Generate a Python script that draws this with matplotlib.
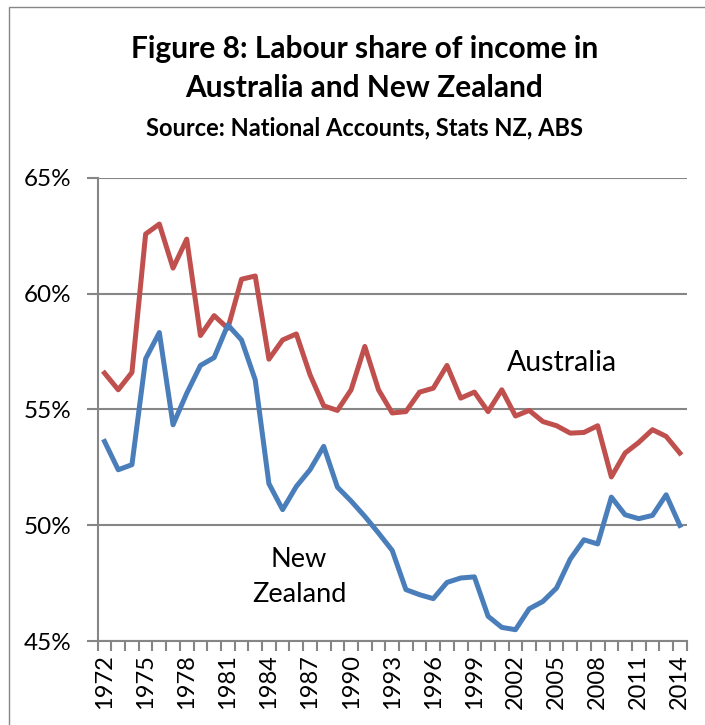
import matplotlib
matplotlib.use("Agg")
import matplotlib.pyplot as plt
from matplotlib.patches import Rectangle
from matplotlib.ticker import FuncFormatter, FixedLocator
import numpy as np

plt.rcParams['font.family'] = ['Lato', 'DejaVu Sans']

years = list(range(1972, 2015))

australia = [56.57, 55.85, 56.6, 62.57, 63.0, 61.1, 62.35, 58.19, 59.05, 58.5,
             60.62, 60.76, 57.17, 58.0, 58.26, 56.5, 55.16, 54.96, 55.85, 57.72,
             55.85, 54.85, 54.91, 55.75, 55.92, 56.9, 55.49, 55.75, 54.91, 55.85,
             54.72, 54.96, 54.48, 54.3, 53.98, 54.01, 54.3, 52.09, 53.12, 53.58,
             54.13, 53.84, 53.12]

new_zealand = [53.62, 52.4, 52.62, 57.19, 58.32, 54.34, 55.7, 56.9, 57.24, 58.65,
               58.0, 56.28, 51.8, 50.68, 51.68, 52.4, 53.41, 51.65, 51.05, 50.39,
               49.67, 48.92, 47.23, 47.01, 46.84, 47.54, 47.73, 47.78, 46.08, 45.6,
               45.5, 46.4, 46.72, 47.3, 48.55, 49.38, 49.2, 51.22, 50.46, 50.29,
               50.43, 51.32, 50.0]

y_ticks = [45, 50, 55, 60, 65]
label_years = years[::3]

title_line1 = "Figure 8: Labour share of income in"
title_line2 = "Australia and New Zealand"
subtitle = "Source: National Accounts, Stats NZ, ABS"

W, H = 705, 725
fig = plt.figure(figsize=(W / 100, H / 100), dpi=100)

# chart frame
fig.patches.append(Rectangle((9 / W, -0.1), 1.2, 1.1 - 7 / H, transform=fig.transFigure,
                             fill=False, edgecolor='#868686', linewidth=1.0))

ax = fig.add_axes([97.7 / W, 83.7 / H, 589 / W, 463.6 / H])

x = np.arange(len(years))
ax.plot(x, australia, color='#C0504D', linewidth=3.6, solid_joinstyle='round')
ax.plot(x, new_zealand, color='#4A7EBB', linewidth=3.6, solid_joinstyle='round')

ax.set_xlim(-0.5, len(years) - 0.5)
ax.set_ylim(45, 65)

ax.set_yticks(y_ticks)
ax.yaxis.set_major_formatter(FuncFormatter(lambda v, p: f"{v:.0f}%"))
ax.yaxis.grid(True, color='#868686', linewidth=1.5)
ax.set_axisbelow(True)

label_pos = [years.index(yv) for yv in label_years]
ax.xaxis.set_major_locator(FixedLocator(label_pos))
ax.set_xticklabels([str(yv) for yv in label_years], rotation=90)
ax.xaxis.set_minor_locator(FixedLocator(np.arange(-0.5, len(years), 1.0)))
ax.tick_params(axis='x', which='major', length=0, pad=9, labelsize=17)
ax.tick_params(axis='x', which='minor', length=7, width=1.5, color='#868686')
ax.tick_params(axis='y', which='major', length=8, width=1.5, color='#868686',
               labelsize=17.5, pad=11)

for side in ['top', 'right']:
    ax.spines[side].set_visible(False)
for side in ['left', 'bottom']:
    ax.spines[side].set_color('#868686')
    ax.spines[side].set_linewidth(1.5)

ax.text(33.4, 56.68, "Australia", fontsize=20.5, ha='center', va='baseline')
ax.text(14.2, 48.22, "New", fontsize=19.5, ha='center', va='baseline')
ax.text(14.2, 46.71, "Zealand", fontsize=19.5, ha='center', va='baseline')

fig.text(365 / W, 1 - 58.3 / H, title_line1, fontsize=21.5, fontweight='bold',
         ha='center', va='baseline')
fig.text(364 / W, 1 - 96.7 / H, title_line2, fontsize=21.5, fontweight='bold',
         ha='center', va='baseline')
fig.text(364 / W, 1 - 135.7 / H, subtitle, fontsize=17, fontweight='bold',
         ha='center', va='baseline')

fig.savefig("out.png", dpi=100)
